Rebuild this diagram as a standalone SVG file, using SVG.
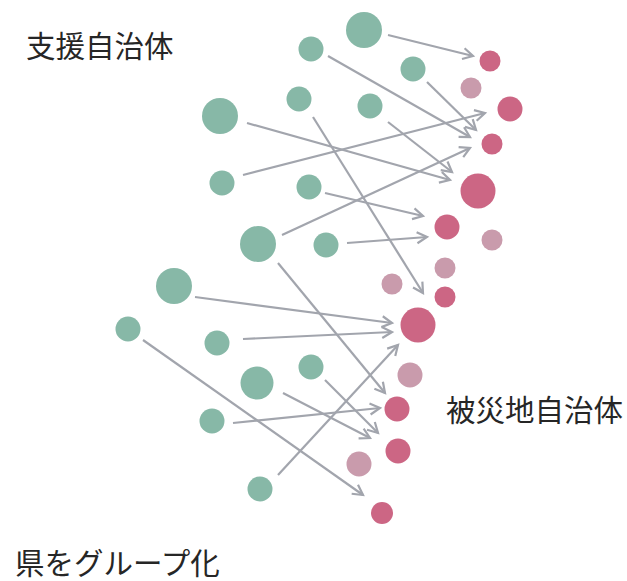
<svg xmlns="http://www.w3.org/2000/svg" width="627" height="581" viewBox="0 0 627 581">
<style>
.g{fill:#87b8a7}
.d{fill:#cc6684}
.l{fill:#c99bac}
.c line{stroke:#a2a5ad;stroke-width:2.2;marker-end:url(#ah)}
.t{font-family:"Noto Sans CJK JP","Noto Sans",sans-serif;font-size:29.5px;fill:#262626}
</style>
<defs>
<marker id="ah" markerUnits="userSpaceOnUse" markerWidth="14" markerHeight="14" viewBox="-11 -7 14 14" refX="0" refY="0" orient="auto">
<path d="M-10,-5.5 L0,0 L-10,5.5" fill="none" stroke="#a2a5ad" stroke-width="2.2" stroke-linejoin="miter"/>
</marker>
</defs>
<rect width="627" height="581" fill="#ffffff"/>
<text class="t" x="26" y="57">支援自治体</text>
<text class="t" x="446" y="421">被災地自治体</text>
<text class="t" x="15" y="574">県をグループ化</text>
<g id="supporters">
<g id="s1"><circle class="g" cx="364" cy="30" r="18"/></g>
<g id="s2"><circle class="g" cx="311" cy="49" r="12.5"/></g>
<g id="s3"><circle class="g" cx="413" cy="69" r="12.5"/></g>
<g id="s4"><circle class="g" cx="299" cy="99" r="12.5"/></g>
<g id="s5"><circle class="g" cx="220" cy="116" r="18"/></g>
<g id="s6"><circle class="g" cx="370" cy="106" r="12.5"/></g>
<g id="s7"><circle class="g" cx="222" cy="183" r="12.5"/></g>
<g id="s8"><circle class="g" cx="309" cy="187" r="12.5"/></g>
<g id="s9"><circle class="g" cx="258" cy="244" r="18"/></g>
<g id="s10"><circle class="g" cx="326" cy="245" r="12.5"/></g>
<g id="s11"><circle class="g" cx="174" cy="286" r="18"/></g>
<g id="s12"><circle class="g" cx="128" cy="329" r="12.5"/></g>
<g id="s13"><circle class="g" cx="217" cy="343" r="12.5"/></g>
<g id="s14"><circle class="g" cx="257" cy="383" r="16.5"/></g>
<g id="s15"><circle class="g" cx="311" cy="367" r="12.5"/></g>
<g id="s16"><circle class="g" cx="212" cy="421" r="12.5"/></g>
<g id="s17"><circle class="g" cx="260" cy="489" r="12.5"/></g>
</g>
<g id="affected">
<g id="a1"><circle class="d" cx="490" cy="61" r="10.5"/></g>
<g id="a2"><circle class="l" cx="471" cy="88" r="10.5"/></g>
<g id="a3"><circle class="d" cx="510" cy="109" r="12.5"/></g>
<g id="a4"><circle class="d" cx="492" cy="144" r="10.5"/></g>
<g id="a5"><circle class="d" cx="478" cy="191" r="17.5"/></g>
<g id="a6"><circle class="d" cx="447" cy="227" r="12.5"/></g>
<g id="a7"><circle class="l" cx="492" cy="240" r="10.5"/></g>
<g id="a8"><circle class="l" cx="445" cy="268" r="10.5"/></g>
<g id="a9"><circle class="l" cx="392" cy="284" r="10.5"/></g>
<g id="a10"><circle class="d" cx="445" cy="297" r="10.5"/></g>
<g id="a11"><circle class="d" cx="418" cy="325" r="17.5"/></g>
<g id="a12"><circle class="l" cx="410" cy="375" r="12.5"/></g>
<g id="a13"><circle class="d" cx="397" cy="409" r="12.5"/></g>
<g id="a14"><circle class="d" cx="398" cy="451" r="12.5"/></g>
<g id="a15"><circle class="l" cx="359" cy="464" r="12.5"/></g>
<g id="a16"><circle class="d" cx="382" cy="513" r="11"/></g>
</g>
<g id="connectors" class="c">
<line x1="388" y1="35" x2="473" y2="56"/>
<line x1="328" y1="56" x2="470" y2="137"/>
<line x1="427" y1="82" x2="476" y2="130"/>
<line x1="388" y1="122" x2="452" y2="172"/>
<line x1="243" y1="175" x2="485" y2="113"/>
<line x1="247" y1="123" x2="450" y2="180"/>
<line x1="282" y1="235" x2="470" y2="148"/>
<line x1="313" y1="117" x2="423" y2="293"/>
<line x1="325" y1="193" x2="423" y2="216"/>
<line x1="347" y1="243" x2="427" y2="237"/>
<line x1="278" y1="263" x2="385" y2="393"/>
<line x1="195" y1="297" x2="392" y2="323"/>
<line x1="243" y1="339" x2="392" y2="332"/>
<line x1="278" y1="475" x2="398" y2="345"/>
<line x1="143" y1="340" x2="363" y2="495"/>
<line x1="233" y1="423" x2="380" y2="408"/>
<line x1="283" y1="393" x2="370" y2="438"/>
<line x1="325" y1="380" x2="378" y2="433"/>
</g>
</svg>
